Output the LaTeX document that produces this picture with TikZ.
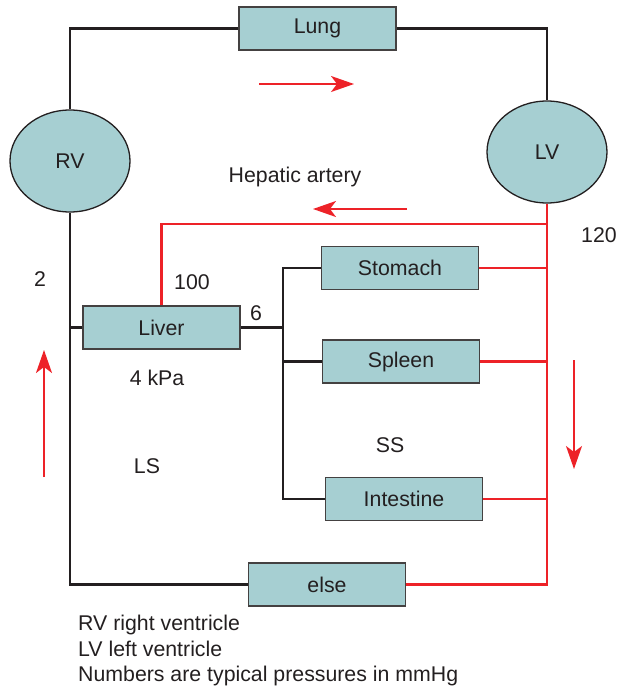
\documentclass[tikz,border=0pt]{standalone}
\usepackage{fontspec}
\setmainfont{Liberation Sans}
\usetikzlibrary{shapes.geometric,arrows.meta}
\definecolor{organ}{RGB}{166,207,210}
\definecolor{artred}{RGB}{237,34,40}
\definecolor{vein}{RGB}{35,31,32}
\begin{document}
\begin{tikzpicture}[x=1pt,y=-1pt,
  font=\fontsize{21.3}{26}\selectfont,
  organbox/.style={draw=vein!85, line width=1.3pt, fill=organ,
    minimum width=157pt, minimum height=43pt, inner sep=0pt, text=vein},
  ventricle/.style={ellipse, draw=vein, line width=1.3pt, fill=organ,
    minimum width=120pt, minimum height=102pt, inner sep=0pt, text=vein},
  venous/.style={draw=vein, line width=2.5pt},
  branch/.style={draw=vein, line width=2.1pt},
  portal/.style={draw=vein, line width=3.2pt},
  trunk/.style={draw=artred, line width=2.8pt},
  arterial/.style={draw=artred, line width=2.2pt},
  flow/.style={draw=artred, line width=1.9pt,
    -{Stealth[length=23pt,width=16pt,inset=6pt]}},
  lbl/.style={inner sep=0pt, text=vein}
]
\useasboundingbox (0,0) rectangle (622,689);

% heart chambers
\node[ventricle] (RV) at (70,161) {RV};
\node[ventricle] (LV) at (547,152) {LV};

% organs
\node[organbox] (Lung)      at (317.5,28.5) {Lung};
\node[organbox] (Liver)     at (161.5,327.5) {Liver};
\node[organbox] (Stomach)   at (400,268) {Stomach};
\node[organbox] (Spleen)    at (401,361.5) {Spleen};
\node[organbox] (Intestine) at (404,499) {Intestine};
\node[organbox] (else)      at (327,584.5) {else};

% helper points
\coordinate (jx) at (283,0);      % splanchnic collecting vein
\coordinate (ha) at (547,224);    % hepatic artery take-off

% pulmonary circuit
\draw[venous] (RV.north) |- (Lung.west);
\draw[venous] (Lung.east) -| (LV.north);

% systemic venous return
\draw[venous] (RV.south) |- (else.west);
\draw[venous] (Liver.west) -- (RV.south |- Liver.west);
\draw[portal] (Liver.east) -- (jx |- Liver.east);
\draw[branch] (Stomach.west) -| (jx |- Intestine.west) -- (Intestine.west);
\draw[branch] (Spleen.west) -- (jx |- Spleen.west);

% arterial supply
\draw[trunk] (LV.south) |- (else.east);
\draw[arterial] (Liver.north) |- (ha);
\draw[arterial] (Stomach.east) -- (LV.south |- Stomach.east);
\draw[arterial] (Spleen.east) -- (LV.south |- Spleen.east);
\draw[arterial] (Intestine.east) -- (LV.south |- Intestine.east);

% flow directions
\coordinate (f1a) at (259,84);  \coordinate (f1b) at (354,84);
\coordinate (f2a) at (407,209); \coordinate (f2b) at (313,209);
\coordinate (f3a) at (574,360); \coordinate (f3b) at (574,469);
\coordinate (f4a) at (44,477);  \coordinate (f4b) at (44,350);
\draw[flow] (f1a) -- (f1b);
\draw[flow] (f2a) -- (f2b);
\draw[flow] (f3a) -- (f3b);
\draw[flow] (f4a) -- (f4b);

% labels and pressures
\node[lbl] (hep)  at (295,177) {Hepatic artery};
\node[lbl] (p120) at (599,235) {120};
\node[lbl] (p100) at (192,282) {100};
\node[lbl] (p2)   at (40,279) {2};
\node[lbl] (p6)   at (256,313) {6};
\node[lbl] (kpa)  at (157,378) {4 kPa};
\node[lbl] (LS)   at (147,466) {LS};
\node[lbl] (SS)   at (390,445) {SS};

% legend
\node[lbl, anchor=base west] (leg1) at (78,630) {RV right ventricle};
\node[lbl, anchor=base west] (leg2) at (78,656) {LV left ventricle};
\node[lbl, anchor=base west] (leg3) at (78,681.5) {Numbers are typical pressures in mmHg};
\end{tikzpicture}
\end{document}
